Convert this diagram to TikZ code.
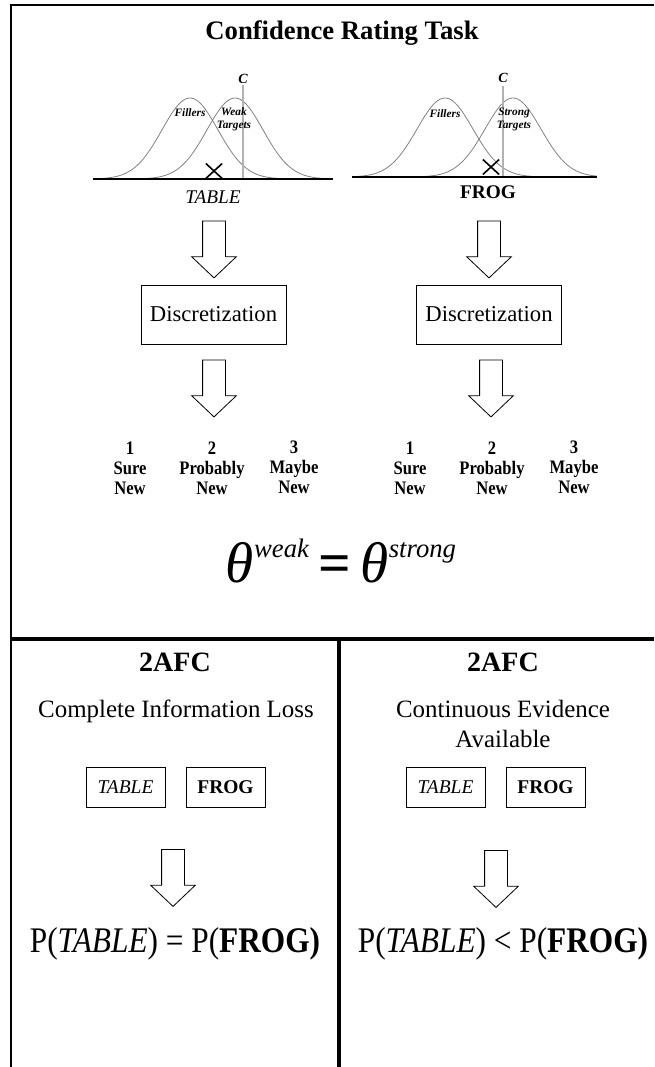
\documentclass[tikz,border=0pt]{standalone}
\usepackage{fontspec}
\setmainfont{Liberation Serif}
\newfontfamily\narrowrm[FakeStretch=0.87]{Liberation Serif}
\usetikzlibrary{shapes,shapes.arrows,shapes.misc}

\begin{document}
\begin{tikzpicture}[x=0.75pt, y=-0.75pt, >=latex]
    \tikzstyle{frame}=[line width=1.5pt, draw=black]
    \tikzstyle{divider}=[line width=3pt, draw=black]
    \tikzstyle{axis}=[line width=1.5pt, draw=black]
    \tikzstyle{density}=[line width=0.6pt, draw=gray]
    \tikzstyle{crit}=[line width=1pt, draw=gray!60]
    \tikzstyle{crit label}=[font=\fontsize{10.5}{12}\selectfont\bfseries\itshape, inner sep=0pt, anchor=base]
    \tikzstyle{dist label}=[font=\fontsize{8.5}{9.75}\selectfont\bfseries\itshape, align=center, inner sep=0pt]
    \tikzstyle{probe}=[cross out, draw=black, line width=1.2pt, minimum width=11pt, minimum height=10pt, inner sep=0pt]
    \tikzstyle{blockarr}=[single arrow, draw=black, line width=0.6pt, fill=white, rotate=-90, minimum height=42.75pt, inner xsep=0pt, inner ysep=8.25pt, single arrow head extend=8.25pt, single arrow tip angle=93]
    \tikzstyle{disc}=[rectangle, draw=black, line width=0.6pt, minimum width=108.75pt, minimum height=44.25pt, font=\fontsize{17}{20}\selectfont]
    \tikzstyle{rating}=[font=\narrowrm\fontsize{14.3}{15}\selectfont\bfseries, align=center, inner sep=0pt]
    \tikzstyle{choice}=[rectangle, draw=black, line width=0.6pt, minimum width=59.25pt, minimum height=30pt, inner sep=0pt, font=\fontsize{14.6}{17}\selectfont]
    \tikzstyle{heading}=[font=\fontsize{21}{25}\selectfont\bfseries, anchor=base, inner sep=0pt]
    \useasboundingbox (0,0) rectangle (654,1067);

    % panel frame
    \draw[frame] (11,1067) -- (11,5) -- (654,5);
    \draw[divider] (12,639) -- (654,639);
    \draw[divider] (339,639) -- (339,1067);

    \node[heading, font=\fontsize{20}{24}\selectfont\bfseries] (title) at (342,39) {Confidence Rating Task};

    % weak targets
    \draw[density] plot[domain=93:288, samples=90, smooth] (\x,{179-81*exp(-0.5*((\x-190)/28)^2)});
    \draw[density] plot[domain=137:333, samples=90, smooth] (\x,{179-81*exp(-0.5*((\x-235)/28)^2)});
    \node[crit label] (cL) at (243,83) {C};
    \coordinate (cLfoot) at (243,179);
    \draw[crit] ([yshift=-1.5pt]cL.south) -- (cLfoot);
    \draw[axis] (93,179) -- (333,179);
    \node[dist label] (fillL) at (190,113) {Fillers};
    \node[dist label] (weakL) at (234,119) {Weak\\Targets};
    \node[probe] (xL) at (214,171) {};
    \node[anchor=base, font=\fontsize{14.5}{17}\selectfont\itshape] (tabL) at (213,203) {TABLE};

    % strong targets
    \draw[density] plot[domain=352:543, samples=90, smooth] (\x,{177-79*exp(-0.5*((\x-445)/28)^2)});
    \draw[density] plot[domain=415:597, samples=90, smooth] (\x,{177-79*exp(-0.5*((\x-513)/28)^2)});
    \node[crit label] (cR) at (503,82) {C};
    \coordinate (cRfoot) at (503,177);
    \draw[crit] ([yshift=-3pt]cR.south) -- (cRfoot);
    \draw[axis] (352,177) -- (597,177);
    \node[dist label] (fillR) at (445,114) {Fillers};
    \node[dist label] (strongR) at (514,119) {Strong\\Targets};
    \node[probe] (xR) at (491,167) {};
    \node[anchor=base, font=\fontsize{14.5}{17}\selectfont\bfseries] (frogR) at (488,198) {FROG};

    % discretization
    \node[blockarr] (arrL1) at (214,244) {};
    \node[blockarr] (arrR1) at (489,244) {};
    \node[disc] (discL) at (213.5,314.5) {Discretization};
    \node[disc] (discR) at (489,314.5) {Discretization};
    \node[blockarr] (arrL2) at (214,383) {};
    \node[blockarr] (arrR2) at (491,383) {};

    \node[rating] (sureL) at (130,468) {1\\Sure\\New};
    \node[rating] (probL) at (212,468) {2\\Probably\\New};
    \node[rating] (maybeL) at (294,467) {3\\Maybe\\New};
    \node[rating] (sureR) at (410,468) {1\\Sure\\New};
    \node[rating] (probR) at (492,468) {2\\Probably\\New};
    \node[rating] (maybeR) at (574,467) {3\\Maybe\\New};

    \node[anchor=base, inner sep=0pt, font=\fontsize{43}{48}\selectfont\itshape] (theta) at (341,582)
      {θ\raisebox{0.42em}{\fontsize{20}{24}\selectfont weak}\,{\upshape\bfseries =}\,θ\raisebox{0.42em}{\fontsize{20}{24}\selectfont strong}};

    % 2AFC panels
    \node[heading] (afcL) at (175,671) {2AFC};
    \node[heading] (afcR) at (503,671) {2AFC};
    \node[anchor=base, inner sep=0pt, font=\fontsize{18.7}{22.5}\selectfont] (lossL) at (176,717) {Complete Information Loss};
    \node[align=center, inner sep=0pt, font=\fontsize{18.7}{22.5}\selectfont] (evidR) at (503,724) {Continuous Evidence\\Available};

    \node[choice, font=\fontsize{14.6}{17}\selectfont\itshape] (tabBL) at (125.5,787) {TABLE};
    \node[choice, font=\fontsize{14.6}{17}\selectfont\bfseries] (frogBL) at (225.5,787) {FROG};
    \node[choice, font=\fontsize{14.6}{17}\selectfont\itshape] (tabBR) at (445.5,787) {TABLE};
    \node[choice, font=\fontsize{14.6}{17}\selectfont\bfseries] (frogBR) at (545.5,787) {FROG};

    \node[blockarr] (arrL3) at (173,872.5) {};
    \node[blockarr] (arrR3) at (496,873.5) {};

    \node[anchor=base, inner sep=0pt, font=\narrowrm\fontsize{27}{30}\selectfont] (peqL) at (175,952) {P(\textit{TABLE}) = P(\textbf{FROG)}};
    \node[anchor=base, inner sep=0pt, font=\narrowrm\fontsize{27}{30}\selectfont] (peqR) at (503,952) {P(\textit{TABLE}) < P(\textbf{FROG)}};
\end{tikzpicture}
\end{document}
